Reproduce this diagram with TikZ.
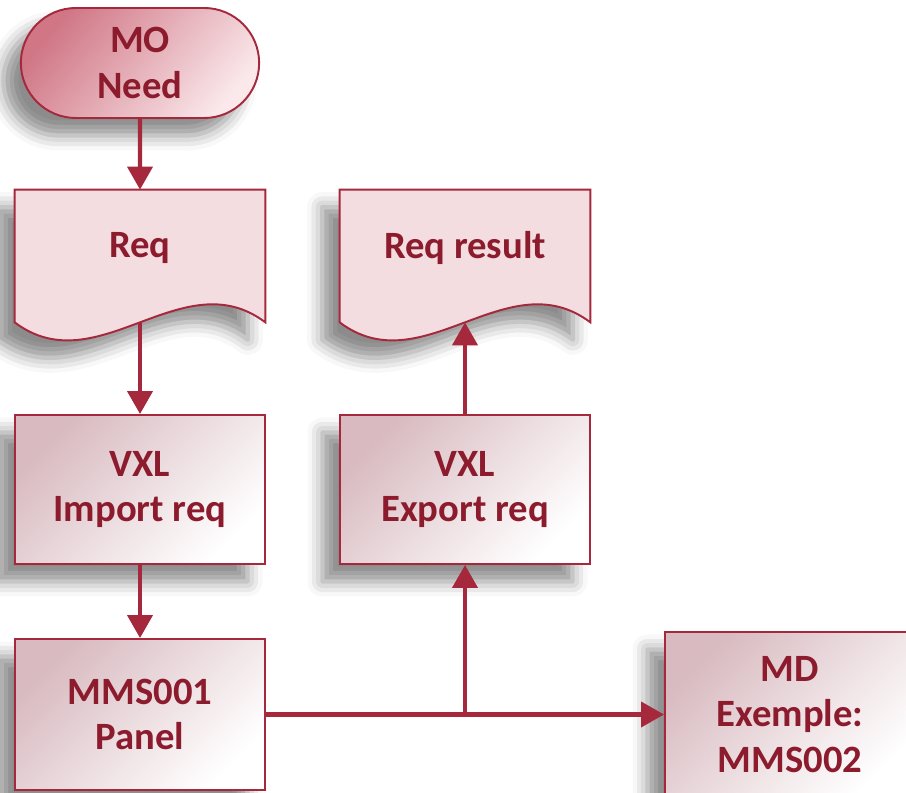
\documentclass[tikz,border=0pt]{standalone}
\usepackage{fontspec}
\setmainfont{Carlito}
\usetikzlibrary{shapes.misc, arrows.meta, shadows.blur, backgrounds}
\definecolor{linered}{RGB}{165,40,60}
\definecolor{textred}{RGB}{140,28,45}
\definecolor{docpink}{RGB}{243,221,224}
\definecolor{boxdark}{RGB}{216,186,192}
\definecolor{termdark}{RGB}{208,118,133}
\definecolor{termlight}{RGB}{250,232,235}
\tikzstyle{boxfont} = [text=textred, align=center, font=\fontsize{22}{25.9}\selectfont\bfseries]
\tikzstyle{softshadow} = [blur shadow={shadow xshift=-0.35cm, shadow yshift=-0.35cm, shadow blur radius=0.3cm, shadow opacity=45}]
\tikzstyle{termbox} = [rounded rectangle, minimum width=5cm, minimum height=2.2cm, draw=linered, line width=1.1pt, top color=termdark, bottom color=termlight, shading angle=50, softshadow, boxfont]
\tikzstyle{procbox} = [rectangle, minimum width=5cm, minimum height=2.98cm, draw=linered, line width=1.1pt, top color=boxdark, bottom color=white, shading angle=45, softshadow, boxfont]
\tikzstyle{docnode} = [rectangle, minimum width=5cm, minimum height=2.64cm, text depth=0.45cm, boxfont]
\tikzstyle{docline} = [draw=linered, line width=1.1pt, fill=docpink, softshadow]
\tikzstyle{arrow} = [draw=linered, line width=2.3pt, -{Triangle[length=0.46cm, width=0.5cm]}]

\begin{document}
\begin{tikzpicture}[node distance=4.5cm]
\useasboundingbox (0,0) rectangle (18.12,15.84);
\node (need) [termbox] at (2.8,14.58) {MO\\Need};
\node (req) [docnode, below of=need, yshift=0.64cm] {Req};
\node (import) [procbox, below of=req, yshift=-0.17cm] {VXL\\Import req};
\draw [arrow] (need) -- (req);
\draw [arrow] (req) -- (import);
\node (panel) [procbox, below of=import, minimum height=3.02cm] {MMS001\\Panel};
\draw [arrow] (import) -- (panel);
\node (export) [procbox, right of=import, xshift=2cm] {VXL\\Export req};
\node (result) [docnode, above of=export, yshift=0.17cm] {Req result};
\draw [arrow] (export) -- (result);
\node (md) [procbox, right of=panel, xshift=8.5cm, minimum height=3.3cm] {MD\\Exemple:\\MMS002};
\coordinate (split) at (export |- panel);
\draw [arrow] (panel) -- (md);
\draw [arrow] (split) -- (export);

\begin{scope}[on background layer]
\foreach \doc in {req, result}
  \path [docline] (\doc.south west) -- (\doc.north west) -- (\doc.north east) -- (\doc.south east)
    .. controls ([xshift=-1.66cm, yshift=1.25cm]\doc.south east) and ([xshift=1.66cm, yshift=-1.25cm]\doc.south west) .. (\doc.south west) -- cycle;
\end{scope}
\end{tikzpicture}
\end{document}
